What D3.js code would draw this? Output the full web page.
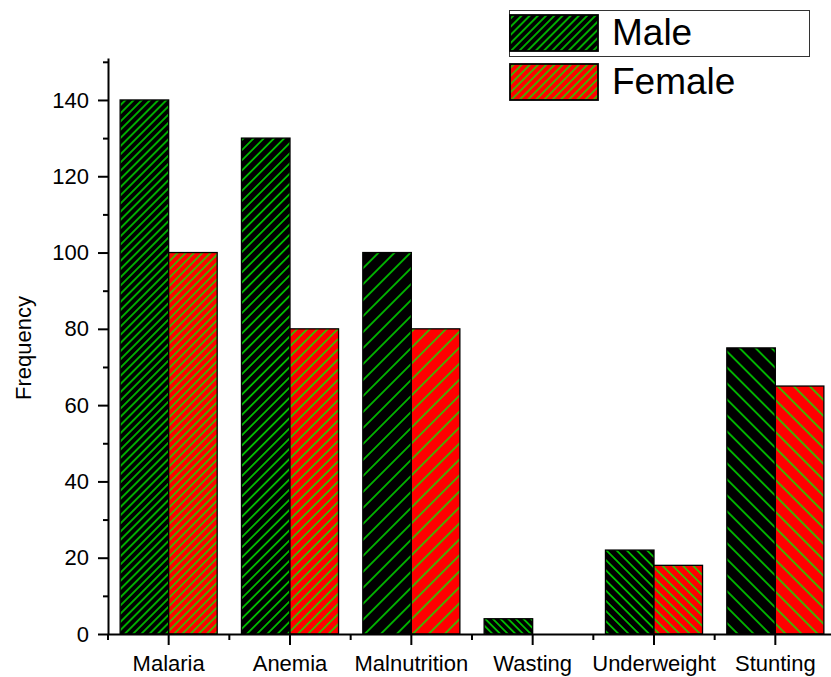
<!DOCTYPE html>
<html>
<head>
<meta charset="utf-8">
<script src="https://cdn.jsdelivr.net/npm/d3@7/dist/d3.min.js"></script>
<style>
  html, body { margin: 0; padding: 0; background: #fff; }
  svg { display: block; font-family: Arial, "Liberation Sans", sans-serif; }
</style>
</head>
<body>
<svg id="chart" width="831" height="677"></svg>
<script>
const categories = ["Malaria", "Anemia", "Malnutrition", "Wasting", "Underweight", "Stunting"];
const seriesNames = ["Male", "Female"];
const maleValues = [140, 130, 100, 4, 22, 75];
const femaleValues = [100, 80, 80, 0, 18, 65];
const yTicks = [0, 20, 40, 60, 80, 100, 120, 140];
const yMinorTicks = [10, 30, 50, 70, 90, 110, 130, 150];
const seriesColors = ["#000000", "#ff0000"];
// hatch per category: angle and spacing
const hatchAngles = [45, 45, 45, -45, -45, -45];
const hatchSpacing = [5.8, 7.2, 11.3, 5.4, 7.2, 11.3];

const svg = d3.select("#chart");
const plot = {left: 108, right: 836, top: 58, bottom: 634};
const FONT = "Arial, 'Liberation Sans', sans-serif";

const x = d3.scaleBand().domain(categories).range([plot.left, plot.right]).paddingInner(0.2).paddingOuter(0.1);
const xs = d3.scaleBand().domain(seriesNames).range([0, x.bandwidth()]);
const y = d3.scaleLinear().domain([0, 151]).range([plot.bottom, plot.top]);

const defs = svg.append("defs");
function makePattern(id, bg, angle, sp) {
  const p = defs.append("pattern").attr("id", id)
    .attr("patternUnits", "userSpaceOnUse")
    .attr("width", sp).attr("height", sp)
    .attr("patternTransform", `rotate(${angle})`);
  p.append("rect").attr("width", sp).attr("height", sp).attr("fill", bg);
  p.append("line").attr("x1", sp/2).attr("x2", sp/2).attr("y1", -1).attr("y2", sp+1)
    .attr("stroke", "#00f000").attr("stroke-width", 1.4);
}
categories.forEach((c, ci) => {
  seriesColors.forEach((col, si) => makePattern(`p${ci}_${si}`, col, hatchAngles[ci], hatchSpacing[ci]));
});
seriesColors.forEach((col, si) => makePattern(`leg${si}`, col, 45, 5.8));

const data = [];
categories.forEach((c, ci) => {
  [maleValues, femaleValues].forEach((vals, si) => {
    data.push({cat: c, ci, si, series: seriesNames[si], value: vals[ci]});
  });
});

svg.append("g").selectAll("rect").data(data).join("rect")
  .attr("x", d => x(d.cat) + xs(d.series))
  .attr("width", xs.bandwidth())
  .attr("y", d => y(d.value))
  .attr("height", d => y(0) - y(d.value))
  .attr("fill", d => `url(#p${d.ci}_${d.si})`)
  .attr("stroke", "#000")
  .attr("stroke-width", 1.3);

// Y axis
const yAxis = svg.append("g").attr("transform", `translate(${plot.left},0)`)
  .call(d3.axisLeft(y).tickValues(yTicks).tickSize(10).tickPadding(9).tickSizeOuter(0));
yAxis.select(".domain").attr("stroke-width", 2);
yAxis.selectAll(".tick line").attr("stroke-width", 2);
yAxis.selectAll("text").attr("font-size", 22).attr("fill", "#000").attr("font-family", FONT);
const yMinor = svg.append("g").attr("transform", `translate(${plot.left},0)`)
  .call(d3.axisLeft(y).tickValues(yMinorTicks).tickSize(5).tickFormat("").tickSizeOuter(0));
yMinor.select(".domain").remove();
yMinor.selectAll(".tick line").attr("stroke-width", 2);

// X axis
const xAxis = svg.append("g").attr("transform", `translate(0,${plot.bottom})`)
  .call(d3.axisBottom(x).tickSize(11).tickPadding(10).tickSizeOuter(0));
xAxis.select(".domain").attr("stroke-width", 2);
xAxis.selectAll(".tick line").attr("stroke-width", 2);
xAxis.selectAll("text").attr("font-size", 22).attr("fill", "#000").attr("font-family", FONT);
const minorX = categories.map(c => x(c) + x.bandwidth()/2 - x.step()/2);
svg.append("g").selectAll("line").data(minorX).join("line")
  .attr("x1", d => d).attr("x2", d => d)
  .attr("y1", plot.bottom).attr("y2", plot.bottom + 6)
  .attr("stroke", "#000").attr("stroke-width", 2);

// Y label
svg.append("text")
  .attr("transform", `translate(31,348) rotate(-90)`)
  .attr("text-anchor", "middle")
  .attr("font-size", 22)
  .attr("font-family", FONT)
  .text("Frequency");

// Legend
const leg = svg.append("g");
leg.append("rect").attr("x", 509.5).attr("y", 10.5).attr("width", 300).attr("height", 46)
  .attr("fill", "#fff").attr("stroke", "#333").attr("stroke-width", 1);
seriesNames.forEach((s, i) => {
  const yy = 15 + i * 49;
  leg.append("rect").attr("x", 510).attr("y", yy).attr("width", 88).attr("height", 36)
    .attr("fill", `url(#leg${i})`).attr("stroke", "#000").attr("stroke-width", 1.8);
  leg.append("text").attr("x", 612).attr("y", yy + 30).attr("font-size", 37).attr("font-family", FONT).text(s);
});
</script>
</body>
</html>
